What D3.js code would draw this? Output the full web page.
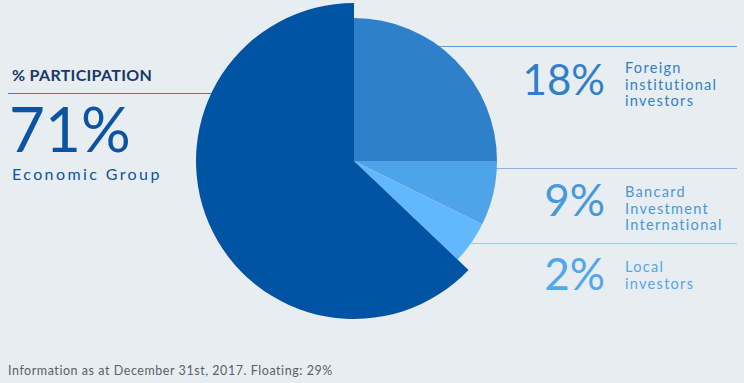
<!DOCTYPE html>
<html>
<head>
<meta charset="utf-8">
<script src="https://cdn.jsdelivr.net/npm/d3@7"></script>
<style>
body { margin: 0; background: #e8edf2; }
svg { display: block; font-family: Lato, "Open Sans", sans-serif; }
</style>
</head>
<body>
<svg id="chart" width="744" height="383"></svg>
<script>
// slices in drawing order, clockwise from 12 o'clock
var groups = ["Foreign institutional investors", "Bancard Investment International", "Local investors", "Economic Group"];
var percents = [18, 9, 2, 71];
// share of the circle each slice takes in the picture (not proportional to the labels)
var shares = [25, 7.3, 4.8, 62.9];
var colors = ["#2f80cb", "#4fa3e8", "#62b8fc", "#0154a4"];
var labelColors = ["#2f7fcb", "#4898dc", "#52a6ee", "#0a54a3"];
var labelLines = [["Foreign", "institutional", "investors"], ["Bancard", "Investment", "International"], ["Local", "investors"], ["Economic Group"]];
var footnote = "Information as at December 31st, 2017. Floating: 29%";

var svg = d3.select("#chart"),
cx = 354,
cy = 161;

svg.append("rect").attr("width", 744).attr("height", 383).attr("fill", "#e8edf2");

// guide lines (drawn first, the pie sits on top)
svg.append("line").attr("x1", 8).attr("x2", cx).attr("y1", 93.5).attr("y2", 93.5)
.attr("stroke", "#3f80c8").attr("stroke-width", 1);
var rightY = [46.5, 168.5, 243.5];
var rightCol = ["#5a9ee0", "#7cb6ea", "#9ccaf2"];
rightY.forEach(function (y, i) {
svg.append("line").attr("x1", cx).attr("x2", 737).attr("y1", y).attr("y2", y)
.attr("stroke", rightCol[i]).attr("stroke-width", 1);
});

var pie = d3.pie().sort(null).value(function (d) { return d; });
var arcs = pie(shares);
var arcSmall = d3.arc().innerRadius(0).outerRadius(143);
var arcBig = d3.arc().innerRadius(0).outerRadius(158);

svg.append("g").attr("transform", "translate(" + cx + "," + cy + ")")
.selectAll("path")
.data(arcs)
.enter()
.append("path")
.attr("d", function (d, i) { return i == 3 ? arcBig(d) : arcSmall(d); })
.attr("fill", function (d, i) { return colors[i]; });

// left block
svg.append("text").attr("x", 12).attr("y", 81)
.attr("font-size", "16px").attr("font-weight", 700).attr("fill", "#17386a")
.attr("letter-spacing", "0.3px")
.text("% PARTICIPATION");
svg.append("text").attr("x", 9).attr("y", 152)
.attr("font-size", "62px").attr("font-weight", 400).attr("fill", labelColors[3])
.text(percents[3] + "%");
svg.append("text").attr("x", 12).attr("y", 180)
.attr("font-size", "16px").attr("font-weight", 400).attr("fill", labelColors[3])
.attr("letter-spacing", "2.4px")
.text(labelLines[3][0]);

// right block
var numY = [95, 215.5, 290];
var numSize = [42, 44, 44];
var firstBase = [73, 197, 272];
[0, 1, 2].forEach(function (i) {
svg.append("text").attr("x", 605).attr("y", numY[i]).attr("text-anchor", "end")
.attr("font-size", numSize[i] + "px").attr("font-weight", 400).attr("fill", labelColors[i])
.text(percents[i] + "%");
svg.append("text").attr("x", 625).attr("y", firstBase[i])
.attr("font-size", "14.5px").attr("fill", labelColors[i]).attr("letter-spacing", "1.3px")
.selectAll("tspan")
.data(labelLines[i])
.enter()
.append("tspan")
.attr("x", 625)
.attr("dy", function (d, j) { return j == 0 ? 0 : 16.5; })
.text(function (d) { return d; });
});

svg.append("text").attr("x", 8).attr("y", 375)
.attr("font-size", "12.5px").attr("fill", "#5a5f66").attr("letter-spacing", "0.55px")
.text(footnote);
</script>
</body>
</html>
